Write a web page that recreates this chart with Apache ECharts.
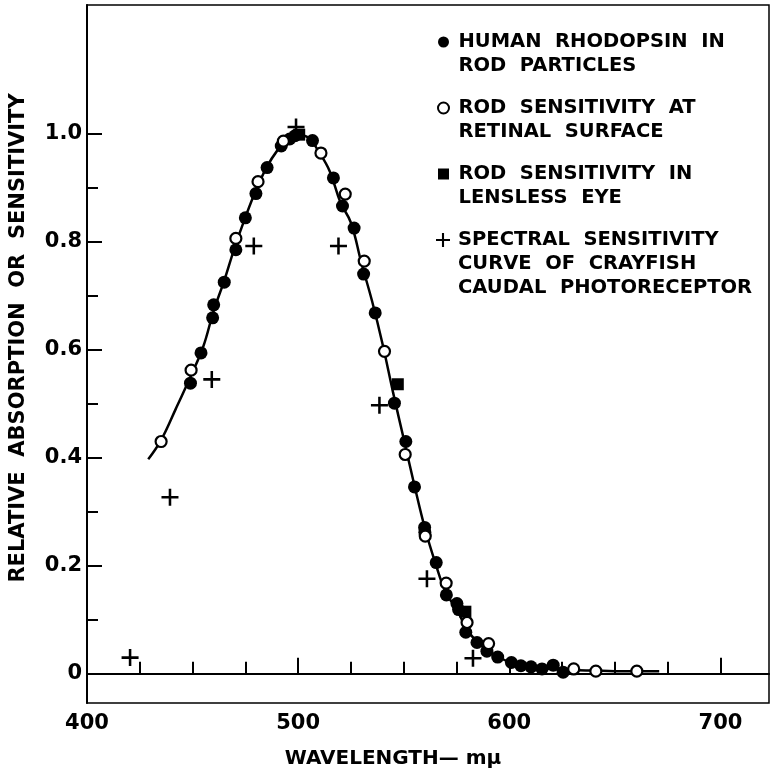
<!DOCTYPE html>
<html>
<head>
<meta charset="utf-8">
<title>Rhodopsin absorption and rod sensitivity</title>
<script src="https://cdn.jsdelivr.net/npm/echarts@6/dist/echarts.min.js"></script>
<style>
  html, body { margin: 0; padding: 0; background: #ffffff; }
  #main { width: 772px; height: 777px; }
</style>
</head>
<body>
<div id="main"></div>
<script>
// [wavelength in mμ, relative value]
var humanRhodopsin = [
  [449, 0.538], [454, 0.594], [459.5, 0.659], [460, 0.683], [465, 0.725],
  [470.5, 0.785], [475, 0.844], [480, 0.889], [485.3, 0.937], [492, 0.977],
  [496, 0.990], [498.5, 0.996], [506.8, 0.987], [516.7, 0.918], [521, 0.866],
  [526.5, 0.825], [531, 0.740], [536.5, 0.668], [545.6, 0.501], [551, 0.430],
  [555.1, 0.346], [559.9, 0.271], [560, 0.262], [565.4, 0.206], [570.2, 0.146],
  [575.2, 0.130], [576, 0.119], [579.4, 0.077], [584.7, 0.058], [589.4, 0.042],
  [594.5, 0.031], [601, 0.021], [605.5, 0.015], [610.3, 0.013], [615.5, 0.009],
  [620.8, 0.016], [625.5, 0.003]
]
var rodRetinal = [
  [435.1, 0.430], [449.3, 0.562], [470.5, 0.806], [481, 0.911], [493, 0.986],
  [510.8, 0.964], [522.3, 0.888], [531.3, 0.764], [540.9, 0.597], [550.7, 0.406],
  [560.2, 0.255], [570.1, 0.168], [580, 0.095], [590.2, 0.056], [630.5, 0.009],
  [641, 0.005], [660.4, 0.005]
]
var rodLensless = [
  [500.5, 0.998], [547.2, 0.536], [579.2, 0.115]
]
var crayfish = [
  [420.4, 0.030], [439.3, 0.327], [459.1, 0.545], [479, 0.792], [499, 1.012],
  [519.1, 0.792], [538.5, 0.497], [561, 0.176], [582.8, 0.029]
]
// drawn curve, points
var fittedCurve = [
  [429, 0.397], [435, 0.432], [442, 0.49], [449, 0.55], [455, 0.605],
  [460, 0.672], [465, 0.728], [470, 0.79], [475, 0.845], [480, 0.895],
  [485, 0.937], [490, 0.968], [495, 0.988], [500, 0.998], [505, 0.992],
  [510, 0.965], [515, 0.93], [520, 0.873], [525, 0.835], [530, 0.76],
  [535, 0.69], [540, 0.61], [545, 0.52], [550, 0.435], [555, 0.35],
  [560, 0.27], [565, 0.205], [570, 0.15], [575, 0.12], [580, 0.082],
  [585, 0.058], [590, 0.042], [595, 0.031], [600, 0.022], [610, 0.013],
  [620, 0.009], [630, 0.007], [640, 0.006], [650, 0.005], [660, 0.005],
  [671, 0.005]
]

var xMajorTicks = [400, 500, 600, 700]
var xMinorTicks = [425, 450, 475, 525, 550, 575, 625, 650, 675]
var yMajorTicks = [0, 0.2, 0.4, 0.6, 0.8, 1.0]
var yMinorTicks = [0.1, 0.3, 0.5, 0.7, 0.9]

var seriesNames = [
  'HUMAN RHODOPSIN IN ROD PARTICLES',
  'ROD SENSITIVITY AT RETINAL SURFACE',
  'ROD SENSITIVITY IN LENSLESS EYE',
  'SPECTRAL SENSITIVITY CURVE OF CRAYFISH CAUDAL PHOTORECEPTOR'
]
var legendLines = [
  ['HUMAN  RHODOPSIN  IN', 'ROD  PARTICLES'],
  ['ROD  SENSITIVITY  AT', 'RETINAL  SURFACE'],
  ['ROD  SENSITIVITY  IN', 'LENSLESS  EYE'],
  ['SPECTRAL  SENSITIVITY', 'CURVE  OF  CRAYFISH', 'CAUDAL  PHOTORECEPTOR']
]

var FONT = 'DejaVu Sans'
var plusPath = 'path://M8.5,0 H11.5 V8.5 H20 V11.5 H11.5 V20 H8.5 V11.5 H0 V8.5 H8.5 Z'
var squarePath = 'path://M0,0 H10 V10 H0 Z'

// icon sits on the first text line: pad the text with empty lines above
function legendText(name) {
  var lines = legendLines[seriesNames.indexOf(name)]
  var pad = []
  for (var i = 1; i < lines.length; i++) pad.push('')
  return pad.concat(lines).join('\n')
}

function makeLegend(idx, left, top, iconH) {
  return {
    data: [seriesNames[idx]],
    orient: 'vertical',
    left: left,
    top: top,
    padding: 0,
    itemWidth: 20,
    itemHeight: iconH,
    selectedMode: false,
    formatter: legendText,
    textStyle: { fontFamily: FONT, fontWeight: 'bold', fontSize: 19.5, lineHeight: 24, color: '#000' }
  }
}

var chart = echarts.init(document.getElementById('main'))
var option = {
  animation: false,
  backgroundColor: '#ffffff',
  grid: {
    left: 87, right: 3, top: 5, bottom: 74,
    show: true, borderColor: '#000', borderWidth: 1.5, backgroundColor: 'transparent'
  },
  legend: [
    makeLegend(0, 438, 6, 11),
    makeLegend(1, 437, 72, 11),
    makeLegend(2, 438, 138, 11),
    makeLegend(3, 436, 180, 14)
  ],
  xAxis: [
    {
      type: 'value', position: 'bottom', min: 400, max: 723,
      name: 'WAVELENGTH\u2014 m\u03bc',
      nameLocation: 'middle', nameGap: 46,
      nameTextStyle: { fontFamily: FONT, fontWeight: 'bold', fontSize: 20, color: '#000', padding: [0, 70, 0, 0] },
      axisLine: { lineStyle: { color: '#000', width: 2 } },
      axisTick: { inside: true, length: 16, customValues: xMajorTicks, lineStyle: { color: '#000', width: 2 } },
      axisLabel: {
        customValues: xMajorTicks, margin: 10,
        fontFamily: FONT, fontWeight: 'bold', fontSize: 21, color: '#000'
      },
      splitLine: { show: false }
    },
    {
      type: 'value', position: 'bottom', min: 400, max: 723,
      axisLine: { show: false },
      axisTick: { inside: true, length: 12, customValues: xMinorTicks, lineStyle: { color: '#000', width: 2 } },
      axisLabel: { show: false },
      splitLine: { show: false }
    }
  ],
  yAxis: [
    {
      type: 'value', position: 'left', min: -0.054, max: 1.238,
      name: 'RELATIVE  ABSORPTION  OR  SENSITIVITY',
      nameLocation: 'middle', nameGap: 58,
      nameTextStyle: { fontFamily: FONT, fontWeight: 'bold', fontSize: 21, color: '#000', padding: [0, 0, 0, 32] },
      axisLine: { lineStyle: { color: '#000', width: 2 } },
      axisTick: { inside: true, length: 15, customValues: yMajorTicks, lineStyle: { color: '#000', width: 2 } },
      axisLabel: {
        customValues: yMajorTicks, margin: 5,
        fontFamily: FONT, fontWeight: 'bold', fontSize: 21, color: '#000',
        formatter: function (v) { return v === 0 ? '0' : v.toFixed(1) }
      },
      splitLine: { show: false }
    },
    {
      type: 'value', position: 'left', min: -0.054, max: 1.238,
      axisLine: { show: false },
      axisTick: { inside: true, length: 11, customValues: yMinorTicks, lineStyle: { color: '#000', width: 2 } },
      axisLabel: { show: false },
      splitLine: { show: false }
    }
  ],
  series: [
    {
      name: 'curve', type: 'line', data: fittedCurve, smooth: 0.4,
      showSymbol: false, silent: true, z: 1,
      lineStyle: { color: '#000', width: 2.5 }
    },
    {
      name: seriesNames[0], type: 'scatter', data: humanRhodopsin, z: 3,
      symbol: 'circle', symbolSize: 13,
      itemStyle: { color: '#000', opacity: 1 }
    },
    {
      name: seriesNames[1], type: 'scatter', data: rodRetinal, z: 4,
      symbol: 'circle', symbolSize: 11,
      itemStyle: { color: '#fff', borderColor: '#000', borderWidth: 2.2, opacity: 1 }
    },
    {
      name: seriesNames[2], type: 'scatter', data: rodLensless, z: 4,
      symbol: squarePath, symbolSize: 12,
      itemStyle: { color: '#000', opacity: 1 }
    },
    {
      name: seriesNames[3], type: 'scatter', data: crayfish, z: 5,
      symbol: plusPath, symbolSize: 17,
      itemStyle: { color: '#000', opacity: 1 }
    }
  ]
}
chart.setOption(option)
</script>
</body>
</html>
